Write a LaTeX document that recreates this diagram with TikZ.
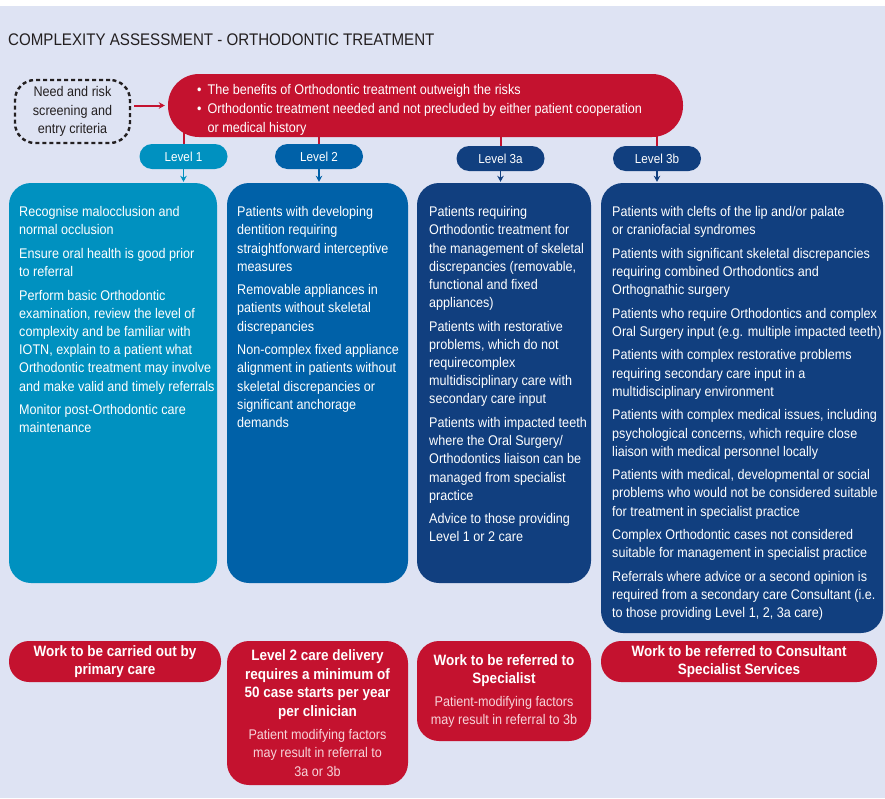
\documentclass[tikz,border=0pt]{standalone}
\usepackage{fontspec}
\setmainfont{Liberation Sans}[FakeStretch=0.9]
\usetikzlibrary{arrows.meta}
\definecolor{nhsred}{RGB}{196,18,47}
\definecolor{lvone}{RGB}{0,145,192}
\definecolor{lvtwo}{RGB}{0,97,168}
\definecolor{lvthree}{RGB}{17,63,127}
\definecolor{paper}{RGB}{222,227,243}
\definecolor{ink}{RGB}{35,31,32}
\definecolor{softpink}{RGB}{247,212,218}
\tikzset{
  box/.style={rounded corners=22pt,inner sep=0pt},
  levelpill/.style={rounded corners=12.5pt,minimum width=88pt,minimum height=25pt,inner sep=0pt,
    text=white,font=\fontsize{13}{15}\selectfont},
  body/.style={anchor=north west,inner sep=0pt,align=left,text=white,font=\fontsize{14}{18.2}\selectfont},
  outcome/.style={fill=nhsred,inner sep=0pt,align=center,text=white,
    font=\fontsize{15}{18.5}\selectfont\bfseries},
  tick/.style={nhsred,line width=2pt},
}
\newcommand\soft[1]{{\mdseries\fontsize{14}{18.5}\selectfont\color{softpink}#1}}
\begin{document}
\begin{tikzpicture}[x=1pt,y=-1pt,>={Stealth[length=6pt,width=6.5pt]}]
\useasboundingbox(0,0)rectangle(885,798);
\fill[paper](0,6)rectangle(885,798);
\node[anchor=base west,inner sep=0pt,text=ink,font=\fontsize{16.8}{22}\selectfont](title)at(8,45)
  {COMPLEXITY ASSESSMENT - ORTHODONTIC TREATMENT};
% entry criteria
\node[draw=ink,line width=2.4pt,dash pattern=on 4pt off 3pt,rounded corners=20pt,minimum width=115pt,
  minimum height=63pt,inner sep=0pt,align=center,text=ink,font=\fontsize{14}{18.5}\selectfont]
  (screen)at(72.5,111.5){Need and risk\\screening and\\entry criteria};
\node[fill=nhsred,rounded corners=31pt,minimum width=515pt,minimum height=63pt,inner sep=0pt](crit)at(425.5,105.5){};
\node[anchor=north west,inner sep=0pt,align=left,text=white,font=\fontsize{14}{19}\selectfont](crittxt)at(197,83.8)
  {\textbullet\hspace{6pt}The benefits of Orthodontic treatment outweigh the risks\\
   \textbullet\hspace{6pt}Orthodontic treatment needed and not precluded by either patient cooperation\\
   \phantom{\textbullet}\hspace{6pt}or medical history};
\draw[nhsred,line width=2pt,->,shorten <=3pt,shorten >=3pt](screen.east|-crit.west)--(crit.west);
% levels
\node[levelpill,fill=lvone](l1)at(183.5,156.5){Level 1};
\node[levelpill,fill=lvtwo](l2)at(319,156.5){Level 2};
\node[levelpill,fill=lvthree](l3a)at(500.5,158.5){Level 3a};
\node[levelpill,fill=lvthree](l3b)at(657,158.5){Level 3b};
\foreach \l in {l1,l2,l3a,l3b}\draw[tick](\l.north)--++(0,-13);
% level boxes
\node[box,fill=lvone,minimum width=208pt,minimum height=400pt](b1)at(113,383){};
\node[box,fill=lvtwo,minimum width=181pt,minimum height=400pt](b2)at(317.5,383){};
\node[box,fill=lvthree,minimum width=174pt,minimum height=400pt](b3a)at(504,383){};
\node[box,fill=lvthree,minimum width=282pt,minimum height=450pt](b3b)at(742,408){};
\draw[lvone,line width=1.5pt,->,shorten >=1pt](l1.south)--(l1.south|-b1.north);
\draw[lvtwo,line width=1.5pt,->,shorten >=1pt](l2.south)--(l2.south|-b2.north);
\draw[lvthree,line width=1.5pt,->,shorten >=1pt](l3a.south)--(l3a.south|-b3a.north);
\draw[lvthree,line width=1.5pt,->,shorten >=1pt](l3b.south)--(l3b.south|-b3b.north);
\node[body](t1)at(19,206.3){Recognise malocclusion and\\normal occlusion\\[5.3pt]
  Ensure oral health is good prior\\to referral\\[5.3pt]
  Perform basic Orthodontic\\examination, review the level of\\complexity and be familiar with\\
  IOTN, explain to a patient what\\Orthodontic treatment may involve\\and make valid and timely referrals\\[5.3pt]
  Monitor post-Orthodontic care\\maintenance};
\node[body](t2)at(237,206.3){Patients with developing\\dentition requiring\\straightforward interceptive\\measures\\[5.3pt]
  Removable appliances in\\patients without skeletal\\discrepancies\\[5.3pt]
  Non-complex fixed appliance\\alignment in patients without\\skeletal discrepancies or\\significant anchorage\\demands};
\node[body](t3a)at(429,206.3){Patients requiring\\Orthodontic treatment for\\the management of skeletal\\
  discrepancies (removable,\\functional and fixed\\appliances)\\[5.3pt]
  Patients with restorative\\problems, which do not\\requirecomplex\\multidisciplinary care with\\secondary care input\\[5.3pt]
  Patients with impacted teeth\\where the Oral Surgery/\\Orthodontics liaison can be\\managed from specialist\\practice\\[5.3pt]
  Advice to those providing\\Level 1 or 2 care};
\node[body](t3b)at(612,206.3){Patients with clefts of the lip and/or palate\\or craniofacial syndromes\\[5.3pt]
  Patients with significant skeletal discrepancies\\requiring combined Orthodontics and\\Orthognathic surgery\\[5.3pt]
  Patients who require Orthodontics and complex\\Oral Surgery input (e.g. multiple impacted teeth)\\[5.3pt]
  Patients with complex restorative problems\\requiring secondary care input in a\\multidisciplinary environment\\[5.3pt]
  Patients with complex medical issues, including\\psychological concerns, which require close\\liaison with medical personnel locally\\[5.3pt]
  Patients with medical, developmental or social\\problems who would not be considered suitable\\for treatment in specialist practice\\[5.3pt]
  Complex Orthodontic cases not considered\\suitable for management in specialist practice\\[5.3pt]
  Referrals where advice or a second opinion is\\required from a secondary care Consultant (i.e.\\to those providing Level 1, 2, 3a care)};
% outcomes
\node[outcome,rounded corners=20pt,minimum width=212pt,minimum height=41pt](r1)at(115,661.5)
  {Work to be carried out by\\primary care};
\node[outcome,rounded corners=22pt,minimum width=181pt,minimum height=144pt](r2)at(317.5,713)
  {Level 2 care delivery\\requires a minimum of\\50 case starts per year\\per clinician\\[4.5pt]
   \soft{Patient modifying factors}\\\soft{may result in referral to}\\\soft{3a or 3b}};
\node[outcome,rounded corners=22pt,minimum width=174pt,minimum height=100pt](r3a)at(504,691)
  {Work to be referred to\\Specialist\\[4pt]\soft{Patient-modifying factors}\\\soft{may result in referral to 3b}};
\node[outcome,rounded corners=20pt,minimum width=276pt,minimum height=41pt](r3b)at(739,661.5)
  {Work to be referred to Consultant\\Specialist Services};
\end{tikzpicture}
\end{document}
